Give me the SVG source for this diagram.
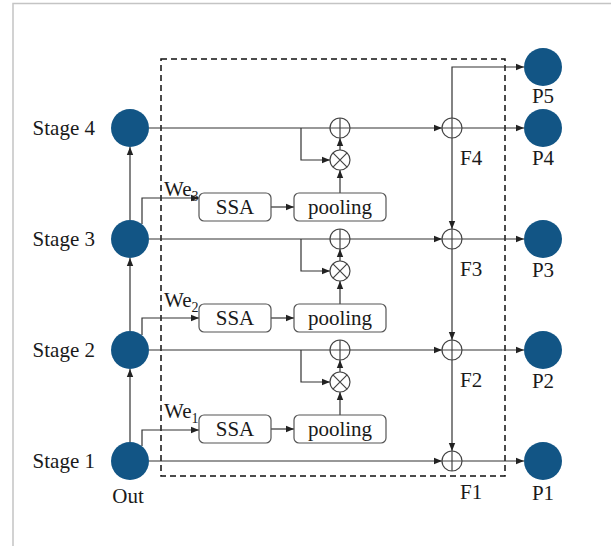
<svg xmlns="http://www.w3.org/2000/svg" width="611" height="546" viewBox="0 0 611 546">
  <defs>
    <marker id="arrow" viewBox="0 0 8 8" refX="8" refY="4" markerWidth="8" markerHeight="8" markerUnits="userSpaceOnUse" orient="auto">
      <path d="M0,0.8 L8,4 L0,7.2 Z" fill="#222"/>
    </marker>
    <g id="oplus">
      <circle r="10" fill="#fff" stroke="#444" stroke-width="1.2"/>
      <path d="M-10,0 H10 M0,-10 V10" stroke="#444" stroke-width="1.2"/>
    </g>
    <g id="otimes">
      <circle r="10" fill="#fff" stroke="#444" stroke-width="1.2"/>
      <path d="M-7.07,-7.07 L7.07,7.07 M-7.07,7.07 L7.07,-7.07" stroke="#444" stroke-width="1.2"/>
    </g>
  </defs>
  <style>
    .txt { font-family: "Liberation Serif", "Times New Roman", serif; font-size: 21px; fill: #1a1a1a; }
    .sub { font-size: 14px; }
    .node { fill: #125585; }
    .box { fill: #fff; stroke: #555; stroke-width: 1.2; }
    .conn { fill: none; stroke: #333; stroke-width: 1.2; }
  </style>

  <rect width="611" height="546" fill="#fff"/>
  <!-- outer frame -->
  <path d="M13,546 V3.5 H611" fill="none" stroke="#c4c4c4" stroke-width="1.5"/>

  <!-- dashed module region -->
  <rect x="161" y="59" width="344" height="417" fill="none" stroke="#111" stroke-width="1.5" stroke-dasharray="6,4"/>

  <!-- connectors -->
  <g id="connectors" class="conn">
    <!-- stage to stage -->
    <path d="M130,442 V369" marker-end="url(#arrow)"/>
    <path d="M130,331 V258" marker-end="url(#arrow)"/>
    <path d="M130,220 V147" marker-end="url(#arrow)"/>
    <!-- stage to SSA -->
    <path d="M142,224 V198 H199" marker-end="url(#arrow)"/>
    <path d="M142,335 V318 H199" marker-end="url(#arrow)"/>
    <path d="M142,446 V430 H199" marker-end="url(#arrow)"/>
    <!-- SSA to pooling -->
    <path d="M271,207 H294" marker-end="url(#arrow)"/>
    <path d="M271,318 H294" marker-end="url(#arrow)"/>
    <path d="M271,429 H294" marker-end="url(#arrow)"/>
    <!-- pooling to otimes -->
    <path d="M340,193 V170" marker-end="url(#arrow)"/>
    <path d="M340,304 V281" marker-end="url(#arrow)"/>
    <path d="M340,415 V392" marker-end="url(#arrow)"/>
    <!-- otimes to oplus -->
    <path d="M340,150 V138" marker-end="url(#arrow)"/>
    <path d="M340,261 V249" marker-end="url(#arrow)"/>
    <path d="M340,372 V360" marker-end="url(#arrow)"/>
    <!-- branches into otimes -->
    <path d="M301,128 V160 H330" marker-end="url(#arrow)"/>
    <path d="M301,239 V271 H330" marker-end="url(#arrow)"/>
    <path d="M301,350 V382 H330" marker-end="url(#arrow)"/>
    <!-- main horizontal lines to F -->
    <path d="M149,128 H442" marker-end="url(#arrow)"/>
    <path d="M149,239 H442" marker-end="url(#arrow)"/>
    <path d="M149,350 H442" marker-end="url(#arrow)"/>
    <path d="M149,461 H442" marker-end="url(#arrow)"/>
    <!-- top-down path -->
    <path d="M452,128 V67 H524" marker-end="url(#arrow)"/>
    <path d="M452,138 V229" marker-end="url(#arrow)"/>
    <path d="M452,249 V340" marker-end="url(#arrow)"/>
    <path d="M452,360 V451" marker-end="url(#arrow)"/>
    <!-- F to P -->
    <path d="M462,128 H524" marker-end="url(#arrow)"/>
    <path d="M462,239 H524" marker-end="url(#arrow)"/>
    <path d="M462,350 H524" marker-end="url(#arrow)"/>
    <path d="M462,461 H524" marker-end="url(#arrow)"/>
  </g>

  <!-- backbone stages -->
  <g id="stage4"><circle class="node" cx="130" cy="128" r="19"/><text class="txt" x="95" y="135" text-anchor="end">Stage 4</text></g>
  <g id="stage3"><circle class="node" cx="130" cy="239" r="19"/><text class="txt" x="95" y="246" text-anchor="end">Stage 3</text></g>
  <g id="stage2"><circle class="node" cx="130" cy="350" r="19"/><text class="txt" x="95" y="357" text-anchor="end">Stage 2</text></g>
  <g id="stage1"><circle class="node" cx="130" cy="461" r="19"/><text class="txt" x="95" y="468" text-anchor="end">Stage 1</text>
    <text class="txt" x="128" y="503" text-anchor="middle">Out</text></g>

  <!-- weight labels -->
  <g id="we3"><text class="txt" x="164" y="196">We<tspan class="sub" dy="5">3</tspan></text></g>
  <g id="we2"><text class="txt" x="164" y="307">We<tspan class="sub" dy="5">2</tspan></text></g>
  <g id="we1"><text class="txt" x="164" y="418">We<tspan class="sub" dy="5">1</tspan></text></g>

  <!-- SSA blocks -->
  <g id="ssa3"><rect class="box" x="199" y="193" width="72" height="28" rx="5"/><text class="txt" x="235" y="214" text-anchor="middle">SSA</text></g>
  <g id="ssa2"><rect class="box" x="199" y="304" width="72" height="28" rx="5"/><text class="txt" x="235" y="325" text-anchor="middle">SSA</text></g>
  <g id="ssa1"><rect class="box" x="199" y="415" width="72" height="28" rx="5"/><text class="txt" x="235" y="436" text-anchor="middle">SSA</text></g>

  <!-- pooling blocks -->
  <g id="pool3"><rect class="box" x="294" y="193" width="92" height="28" rx="5"/><text class="txt" x="340" y="214" text-anchor="middle">pooling</text></g>
  <g id="pool2"><rect class="box" x="294" y="304" width="92" height="28" rx="5"/><text class="txt" x="340" y="325" text-anchor="middle">pooling</text></g>
  <g id="pool1"><rect class="box" x="294" y="415" width="92" height="28" rx="5"/><text class="txt" x="340" y="436" text-anchor="middle">pooling</text></g>

  <!-- fusion operators -->
  <g id="add4"><use href="#oplus" x="340" y="128"/></g>
  <g id="mul4"><use href="#otimes" x="340" y="160"/></g>
  <g id="add3"><use href="#oplus" x="340" y="239"/></g>
  <g id="mul3"><use href="#otimes" x="340" y="271"/></g>
  <g id="add2"><use href="#oplus" x="340" y="350"/></g>
  <g id="mul2"><use href="#otimes" x="340" y="382"/></g>

  <!-- top-down fusion nodes -->
  <g id="f4"><use href="#oplus" x="452" y="128"/><text class="txt" x="460" y="165">F4</text></g>
  <g id="f3"><use href="#oplus" x="452" y="239"/><text class="txt" x="460" y="276">F3</text></g>
  <g id="f2"><use href="#oplus" x="452" y="350"/><text class="txt" x="460" y="387">F2</text></g>
  <g id="f1"><use href="#oplus" x="452" y="461"/><text class="txt" x="460" y="499">F1</text></g>

  <!-- outputs -->
  <g id="p5"><circle class="node" cx="543" cy="67" r="19"/><text class="txt" x="543" y="103" text-anchor="middle">P5</text></g>
  <g id="p4"><circle class="node" cx="543" cy="128" r="19"/><text class="txt" x="543" y="165" text-anchor="middle">P4</text></g>
  <g id="p3"><circle class="node" cx="543" cy="239" r="19"/><text class="txt" x="543" y="277" text-anchor="middle">P3</text></g>
  <g id="p2"><circle class="node" cx="543" cy="350" r="19"/><text class="txt" x="543" y="388" text-anchor="middle">P2</text></g>
  <g id="p1"><circle class="node" cx="543" cy="461" r="19"/><text class="txt" x="543" y="500" text-anchor="middle">P1</text></g>
</svg>
